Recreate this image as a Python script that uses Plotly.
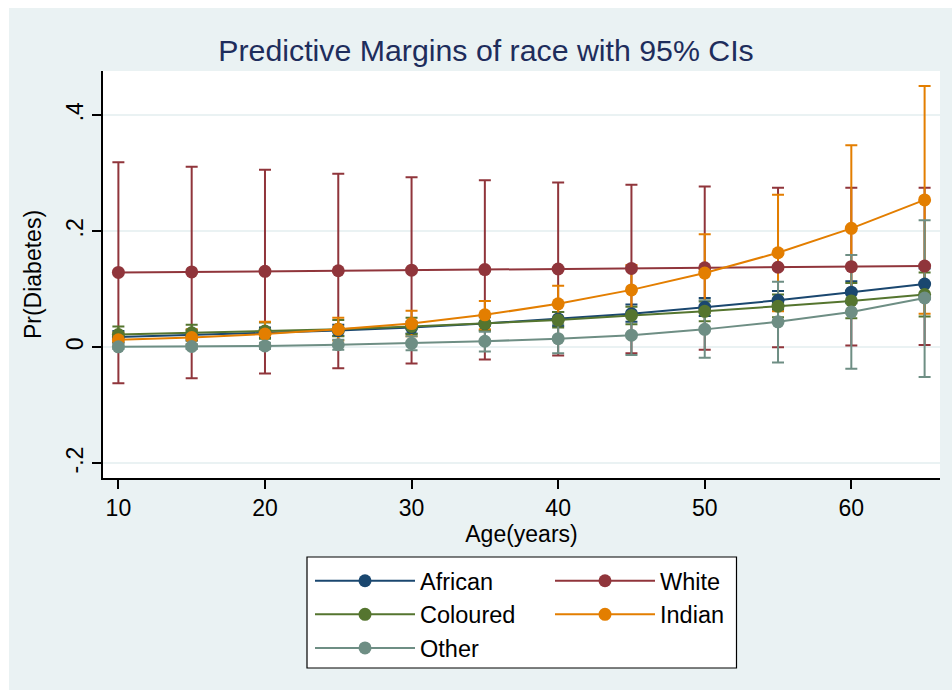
import numpy as np
import plotly.graph_objects as go

ages = [10, 15, 20, 25, 30, 35, 40, 45, 50, 55, 60, 65]

african = [0.018, 0.021, 0.025, 0.029, 0.034, 0.041, 0.049, 0.058, 0.069, 0.081, 0.095, 0.109]
african_lo = [0.008, 0.012, 0.016, 0.020, 0.024, 0.030, 0.037, 0.044, 0.054, 0.065, 0.076, 0.083]
african_hi = [0.028, 0.030, 0.034, 0.039, 0.044, 0.052, 0.061, 0.074, 0.085, 0.097, 0.114, 0.136]

white = [0.129, 0.130, 0.131, 0.132, 0.133, 0.134, 0.135, 0.136, 0.137, 0.138, 0.139, 0.140]
white_lo = [-0.062, -0.053, -0.045, -0.036, -0.028, -0.021, -0.014, -0.010, -0.004, 0.000, 0.003, 0.004]
white_hi = [0.319, 0.311, 0.306, 0.299, 0.293, 0.288, 0.284, 0.280, 0.277, 0.275, 0.275, 0.275]

coloured = [0.022, 0.025, 0.028, 0.031, 0.036, 0.041, 0.047, 0.055, 0.062, 0.071, 0.080, 0.091]
coloured_lo = [0.009, 0.012, 0.015, 0.019, 0.023, 0.028, 0.034, 0.040, 0.045, 0.052, 0.050, 0.053]
coloured_hi = [0.036, 0.039, 0.043, 0.047, 0.051, 0.055, 0.061, 0.070, 0.079, 0.091, 0.111, 0.129]

indian = [0.013, 0.017, 0.023, 0.031, 0.041, 0.056, 0.075, 0.099, 0.128, 0.163, 0.205, 0.254]
indian_lo = [0.002, 0.004, 0.006, 0.012, 0.019, 0.031, 0.045, 0.056, 0.061, 0.062, 0.062, 0.058]
indian_hi = [0.025, 0.031, 0.044, 0.051, 0.063, 0.080, 0.106, 0.142, 0.195, 0.263, 0.348, 0.450]

other = [0.001, 0.0015, 0.0025, 0.0045, 0.007, 0.0105, 0.015, 0.021, 0.031, 0.044, 0.061, 0.085]
other_lo = [-0.003, -0.003, -0.003, -0.004, -0.005, -0.007, -0.010, -0.013, -0.018, -0.026, -0.037, -0.051]
other_hi = [0.005, 0.006, 0.008, 0.013, 0.019, 0.027, 0.040, 0.057, 0.081, 0.113, 0.159, 0.219]

series_names = ["African", "White", "Coloured", "Indian", "Other"]
series_colors = ["#1A476F", "#90353B", "#55752F", "#E37E00", "#6E8E84"]
legend_column = ["legend", "legend2", "legend", "legend2", "legend"]
y_ticks = [-0.2, 0, 0.2, 0.4]
y_ticklabels = ["-.2", "0", ".2", ".4"]
x_ticks = [10, 20, 30, 40, 50, 60]

series = [
    (african, african_lo, african_hi),
    (white, white_lo, white_hi),
    (coloured, coloured_lo, coloured_hi),
    (indian, indian_lo, indian_hi),
    (other, other_lo, other_hi),
]

FONT = "Arial, Liberation Sans, sans-serif"
BG = "#EAF2F3"

fig = go.Figure()

# CI caps first (drawn beneath all lines and markers)
for (mid, lo, hi), name, col in zip(series, series_names, series_colors):
    m = np.array(mid); l = np.array(lo); h = np.array(hi)
    fig.add_trace(go.Scatter(
        x=ages, y=mid, mode="markers",
        marker=dict(size=1, opacity=0, color=col),
        error_y=dict(type="data", symmetric=False, array=h - m, arrayminus=m - l,
                     color=col, thickness=2, width=6),
        showlegend=False, hoverinfo="skip",
    ))

for (mid, lo, hi), name, col, lg in zip(series, series_names, series_colors, legend_column):
    fig.add_trace(go.Scatter(
        x=ages, y=mid, mode="lines+markers", name=name,
        line=dict(color=col, width=2),
        marker=dict(color=col, size=13),
        legend=lg,
    ))

W, H = 952, 698
L, R, T, B = 103, 12, 71, 220
pw, ph = W - L - R, H - T - B

def px_x(px):
    return (px - L) / pw

def px_y(py):
    return (H - B - py) / ph

shapes = [
    dict(type="rect", xref="paper", yref="paper", x0=px_x(-5), x1=px_x(9), y0=px_y(710), y1=px_y(-10),
         fillcolor="white", line=dict(width=0), layer="below"),
    dict(type="rect", xref="paper", yref="paper", x0=px_x(-5), x1=px_x(960), y0=px_y(8), y1=px_y(-10),
         fillcolor="white", line=dict(width=0), layer="below"),
    dict(type="rect", xref="paper", yref="paper", x0=px_x(-5), x1=px_x(960), y0=px_y(710), y1=px_y(690),
         fillcolor="white", line=dict(width=0), layer="below"),
    # legend frame
    dict(type="rect", xref="paper", yref="paper", x0=px_x(307), x1=px_x(736.5), y0=px_y(668), y1=px_y(557),
         fillcolor="white", line=dict(width=1.2, color="black"), layer="above"),
]

legend_common = dict(orientation="v", xanchor="left", yanchor="top",
                     bgcolor="rgba(0,0,0,0)", borderwidth=0,
                     font=dict(family=FONT, size=23.5, color="black"),
                     itemwidth=100, traceorder="normal", itemclick=False, itemdoubleclick=False)

fig.update_layout(
    width=W, height=H,
    template="none",
    margin=dict(l=L, r=R, t=T, b=B, autoexpand=False),
    paper_bgcolor=BG, plot_bgcolor="white",
    font=dict(family=FONT, size=23, color="black"),
    title=dict(text="Predictive Margins of race with 95% CIs", x=486 / W, xanchor="center",
               y=1 - 50 / H, yanchor="middle", xref="container", yref="container",
               font=dict(family=FONT, size=30.3, color="#1E2D5C")),
    xaxis=dict(range=[8.95, 66.05], tickvals=x_ticks, showgrid=False, zeroline=False,
               showline=True, linecolor="black", linewidth=1.5, ticks="outside", ticklen=9,
               tickcolor="black", tickwidth=1.5,
               title=dict(text="Age(years)", standoff=4, font=dict(size=23)),
               tickfont=dict(size=23), automargin=False),
    yaxis=dict(range=[-0.225, 0.476], tickvals=y_ticks, ticktext=y_ticklabels, tickangle=-90,
               showgrid=True, gridcolor=BG, gridwidth=1.5, zeroline=False,
               showline=True, linecolor="black", linewidth=1.5, ticks="outside", ticklen=9,
               tickcolor="black", tickwidth=1.5,
               title=dict(text="Pr(Diabetes)", standoff=14, font=dict(size=23)),
               tickfont=dict(size=23), automargin=False),
    legend=dict(x=px_x(310), y=px_y(559), **legend_common),
    legend2=dict(x=px_x(550), y=px_y(559), **legend_common),
    shapes=shapes,
    showlegend=True,
)

fig.write_html("out.html")
